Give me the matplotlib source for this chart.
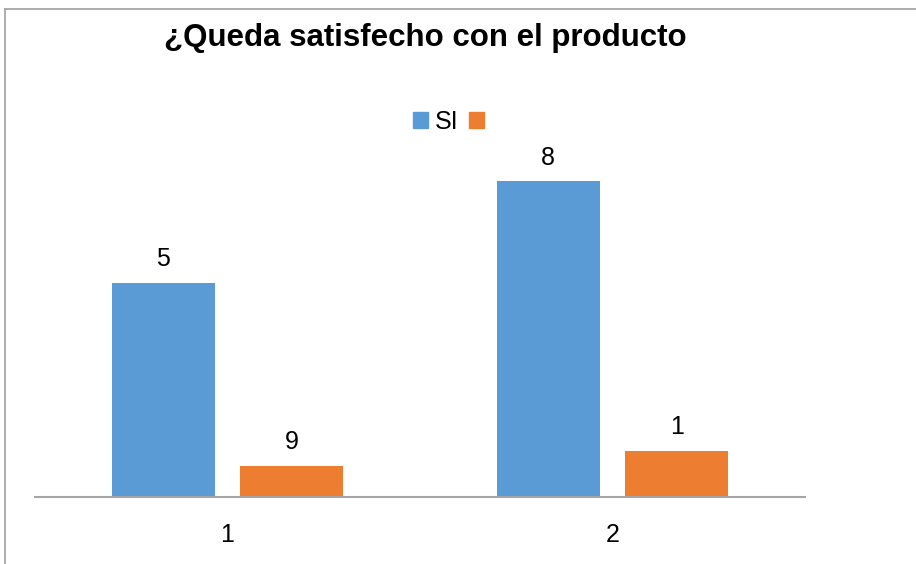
import matplotlib
matplotlib.use("Agg")
import matplotlib.pyplot as plt
from matplotlib.lines import Line2D
import numpy as np

categories = ["1", "2"]
si_values = [14.2, 20.9]
other_values = [2.05, 3.05]
si_labels = ["5", "8"]
other_labels = ["9", "1"]

BLUE = "#5B9BD5"
ORANGE = "#ED7D31"

plt.rcParams["font.family"] = ["Liberation Sans", "DejaVu Sans"]

fig = plt.figure(figsize=(9.16, 5.64), dpi=100)
W, H = 916, 564
# axes: x 35..805 px, y bottom at 497 px, top at 130 px
ax = fig.add_axes([35 / W, 1 - 497 / H, 770 / W, (497 - 130) / H])

x = np.arange(1, len(categories) + 1)
bw = 0.267
off = 0.167
b1 = ax.bar(x - off, si_values, bw, color=BLUE, label="SI")
b2 = ax.bar(x + off, other_values, bw, color=ORANGE, label=" ")

ax.set_ylim(0, 24.3)
ax.set_xlim(0.5, 2.5)

for bars, labels in ((b1, si_labels), (b2, other_labels)):
    for rect, lab in zip(bars, labels):
        ax.annotate(lab, (rect.get_x() + rect.get_width() / 2, rect.get_height()),
                    xytext=(0, 8.5), textcoords="offset points", ha="center", va="bottom",
                    fontsize=18)

ax.set_xticks(x)
ax.set_xticklabels(categories, fontsize=18)
ax.tick_params(axis="x", length=0, pad=19)
ax.set_yticks([])
for s in ["top", "right", "left"]:
    ax.spines[s].set_visible(False)
ax.spines["bottom"].set_color("#A6A6A6")
ax.spines["bottom"].set_linewidth(1.5)

handles = [plt.Rectangle((0, 0), 1, 1, color=BLUE), plt.Rectangle((0, 0), 1, 1, color=ORANGE)]
fig.legend(handles, ["SI", ""], loc="center", bbox_to_anchor=(452 / W, 1 - 122 / H),
           ncol=2, frameon=False, fontsize=18, handlelength=0.6, handleheight=0.6,
           handletextpad=0.3, columnspacing=0.4)

fig.text(425 / W, 1 - 38 / H, "¿Queda satisfecho con el producto", ha="center", va="center",
         fontsize=22.5, fontweight="bold")

# outer frame lines (top and left)
fig.add_artist(Line2D([5 / W, 1], [1 - 9 / H, 1 - 9 / H], color="#A0A0A0", lw=1.2))
fig.add_artist(Line2D([5 / W, 5 / W], [0, 1 - 9 / H], color="#A0A0A0", lw=1.2))

fig.savefig("out.png", dpi=100)
